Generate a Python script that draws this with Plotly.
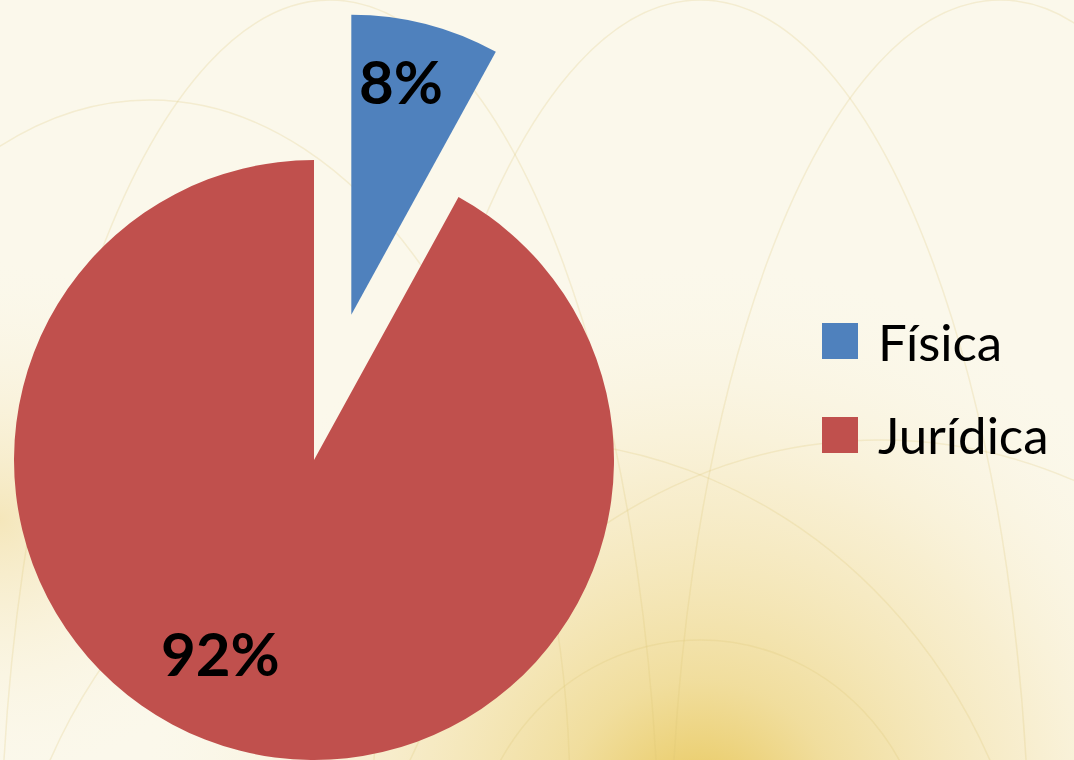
import math
import urllib.parse
import plotly.graph_objects as go

# ---- data ----
labels = ["Física", "Jurídica"]
values = [8, 92]
colors = ["#4F81BD", "#C0504D"]
pull_fraction = 0.5

W, H = 1074, 760
R = 300            # pie radius in px
CX, CY = 314, 460  # main pie centre in px (from top)

def px_dom(cx, cy, r):
    x = [(cx - r) / W, (cx + r) / W]
    y = [(H - cy - r) / H, (H - cy + r) / H]
    return dict(x=[max(0, x[0]), min(1, x[1])], y=[max(0, y[0]), min(1, y[1])])

total = sum(values)
mid_angle = math.radians(360 * values[0] / total / 2)
ox = CX + pull_fraction * R * math.sin(mid_angle)
oy = CY - pull_fraction * R * math.cos(mid_angle)

transparent = "rgba(0,0,0,0)"
fig = go.Figure()
# main (non-pulled) slice
fig.add_trace(go.Pie(
    labels=labels, values=values, sort=False, direction="clockwise", rotation=0,
    marker=dict(colors=[transparent, colors[1]], line=dict(width=0)),
    textinfo="none", hoverinfo="label+percent", showlegend=False,
    domain=px_dom(CX, CY, R),
))
# exploded slice
fig.add_trace(go.Pie(
    labels=labels, values=values, sort=False, direction="clockwise", rotation=0,
    marker=dict(colors=[colors[0], transparent], line=dict(width=0)),
    textinfo="none", hoverinfo="label+percent", showlegend=False,
    domain=px_dom(ox, oy, R),
))

# background (decorative) as inline SVG
svg = f'''<svg xmlns="http://www.w3.org/2000/svg" width="{W}" height="{H}" viewBox="0 0 {W} {H}">
<defs>
<radialGradient id="g1" cx="700" cy="820" r="560" gradientUnits="userSpaceOnUse">
<stop offset="0" stop-color="#E6C24A" stop-opacity="0.95"/>
<stop offset="0.25" stop-color="#EED78A" stop-opacity="0.8"/>
<stop offset="0.6" stop-color="#F5E6B8" stop-opacity="0.55"/>
<stop offset="1" stop-color="#FBF7E8" stop-opacity="0"/>
</radialGradient>
<radialGradient id="g2" cx="0" cy="520" r="260" gradientUnits="userSpaceOnUse">
<stop offset="0" stop-color="#F2DFA6" stop-opacity="0.7"/>
<stop offset="1" stop-color="#FBF7E8" stop-opacity="0"/>
</radialGradient>
</defs>
<rect width="{W}" height="{H}" fill="#FBF8EB"/>
<rect width="{W}" height="{H}" fill="url(#g1)"/>
<rect width="{W}" height="{H}" fill="url(#g2)"/>
<g fill="none" stroke="#DCC474" stroke-opacity="0.22" stroke-width="1.5">
<ellipse cx="700" cy="900" rx="330" ry="900"/>
<ellipse cx="330" cy="900" rx="330" ry="900"/>
<ellipse cx="1000" cy="900" rx="330" ry="900"/>
<ellipse cx="880" cy="1000" rx="520" ry="560"/>
<ellipse cx="520" cy="1000" rx="520" ry="560"/>
<ellipse cx="700" cy="880" rx="230" ry="240"/>
<ellipse cx="150" cy="800" rx="420" ry="700"/>
</g>
</svg>'''
svg_uri = "data:image/svg+xml;charset=utf-8," + urllib.parse.quote(svg)

annotations = []
# percent labels
pct = [f"{round(v * 100 / total)}%" for v in values]
lab_pos = [(401, 81), (220, 653)]
for t, (lx, ly) in zip(pct, lab_pos):
    annotations.append(dict(
        x=lx / W, y=1 - ly / H, xref="paper", yref="paper", text=f"<b>{t}</b>",
        showarrow=False, xanchor="center", yanchor="middle",
        font=dict(family="Lato", size=60, color="#000000"),
    ))

shapes = []
leg_y = [341, 435]
for name, col, ly in zip(labels, colors, leg_y):
    shapes.append(dict(type="rect", xref="paper", yref="paper",
                       x0=822 / W, x1=858 / W, y0=1 - (ly + 18) / H, y1=1 - (ly - 18) / H,
                       fillcolor=col, line=dict(width=0), layer="above"))
    annotations.append(dict(
        x=876 / W, y=1 - ly / H, xref="paper", yref="paper", text=name,
        showarrow=False, xanchor="left", yanchor="middle",
        font=dict(family="Lato", size=51, color="#000000"),
    ))

fig.update_layout(
    width=W, height=H,
    margin=dict(l=0, r=0, t=0, b=0),
    paper_bgcolor="#FBF8EB", plot_bgcolor="#FBF8EB",
    showlegend=False,
    images=[dict(source=svg_uri, xref="paper", yref="paper", x=0, y=1,
                 sizex=1, sizey=1, xanchor="left", yanchor="top",
                 sizing="stretch", layer="below")],
    annotations=annotations, shapes=shapes,
)

fig.write_html(
    "out.html",
    config={"displayModeBar": False},
    post_script="document.body.style.margin='0';document.body.style.overflow='hidden';",
)
